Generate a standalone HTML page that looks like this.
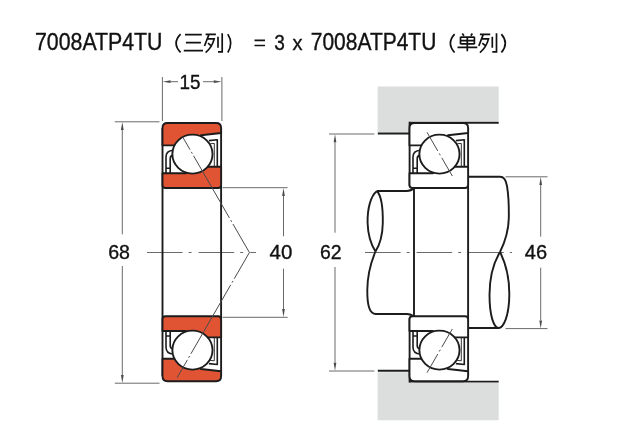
<!DOCTYPE html>
<html><head><meta charset="utf-8">
<style>
html,body{margin:0;padding:0;background:#fff;width:640px;height:440px;overflow:hidden}
svg{display:block;will-change:transform}
text{font-family:"Liberation Sans",sans-serif;fill:#111;stroke:#111;stroke-width:0.35px}
</style></head>
<body>
<svg width="640" height="440" viewBox="0 0 640 440">
<defs>
  <g id="brg" stroke="#1c1c1c" stroke-width="1.9" stroke-linejoin="round">
    <path d="M162.5,145.4 L162.5,128 Q162.5,123 167.5,123 L216.1,123 Q221.1,123 221.1,128 L221.1,133 L201,135.2 L192.4,154 L176,145.4 Z"/>
    <path d="M162.5,173.2 L186,173.2 L192.4,154 L207,166.8 L221.1,166.8 L221.1,185 Q221.1,188 218.1,188 L165.5,188 Q162.5,188 162.5,185 Z"/>
    <path d="M166,173.2 L166,157 Q166,150.6 173.3,150.2 M170.2,173.2 L170.2,158.5 Q170.2,155.6 173.3,155.4 M166,168.2 L170.2,168.2" fill="none" stroke-width="1.6"/>
    <path d="M208.9,140.6 L217.3,139.7 L217.3,166.8" fill="none" stroke-width="1.6"/>
    <path d="M210.1,143.8 L214.3,143.4 L214.3,166.8" fill="none" stroke-width="0.9"/>
    <ellipse cx="192.45" cy="154.1" rx="20.1" ry="19.5" fill="#fff"/>
  </g>
</defs>

<!-- center lines -->
<g stroke="#6a6a6a" stroke-width="1.2" fill="none" stroke-dasharray="35.6 6 3 7">
  <line x1="147" y1="252.5" x2="256" y2="252.5"/>
  <line x1="365" y1="252.5" x2="512" y2="252.5"/>
</g>

<!-- LEFT DIAGRAM -->
<line x1="162.5" y1="128" x2="162.5" y2="376" stroke="#1c1c1c" stroke-width="1.9"/>
<line x1="221.1" y1="128" x2="221.1" y2="376" stroke="#1c1c1c" stroke-width="1.9"/>
<use href="#brg" fill="#e05434"/>
<use href="#brg" fill="#e05434" transform="translate(0,504.2) scale(1,-1)"/>

<!-- RIGHT DIAGRAM -->
<path d="M377.6,86.5 L498.7,86.5 L498.7,121.3 L409.5,121.3 L409.5,132.2 L377.6,132.2 Z" fill="#dcdedd"/>
<path d="M377.6,420.2 L498.7,420.2 L498.7,383 L409.5,383 L409.5,372.2 L377.6,372.2 Z" fill="#dcdedd"/>
<g stroke="#1c1c1c" stroke-width="1.9" fill="none">
  <line x1="377.8" y1="133.5" x2="409.5" y2="133.5"/>
  <line x1="409.5" y1="122.7" x2="498.7" y2="122.7"/>
  <line x1="377.8" y1="370.7" x2="409.5" y2="370.7"/>
  <line x1="409.5" y1="381.6" x2="498.7" y2="381.6"/>
  <line x1="468.1" y1="128" x2="468.1" y2="376"/>
  <line x1="409.6" y1="121.8" x2="409.6" y2="186"/>
  <line x1="409.6" y1="318.2" x2="409.6" y2="382.5"/>
  <line x1="414" y1="188" x2="414" y2="317"/>
  <path d="M377,191 L407,191 Q411,191 414,188"/>
  <path d="M375,314 L407,314 Q411,314 414,317"/>
  <path d="M377,191 C370.5,196 367.3,209 367.6,223 C368,237 372,246 375.5,251.5 M377,191 C381.5,196 383,209 382.8,223 C382.5,237 379,246 375.5,251.5"/>
  <path d="M375.5,251.5 C371,262 367.5,275 367.3,290 C367.2,304 369,314 376,314"/>
  <path d="M468.1,176.8 L500,176.8 C504,176.8 506,180 507,186 C508.5,195 509,205 508.8,218 C508.5,232 504,244 500,252"/>
  <path d="M468.1,328 L498.6,328 M500,252 C494,262 489.5,278 489.5,295 C489.5,316 494,328 498.6,328 M500,252 C506,264 509.5,278 509.3,295 C509.1,316 503.5,328 498.6,328"/>
</g>
<use href="#brg" fill="#fff" transform="translate(247,0)"/>
<use href="#brg" fill="#fff" transform="translate(247,504.2) scale(1,-1)"/>

<!-- contact lines -->
<g stroke="#4a4a4a" stroke-width="1" fill="none">
  <line x1="182.6" y1="136.8" x2="249.4" y2="252.5" stroke-dasharray="71.8 2.5 2 2.5" stroke-dashoffset="56.9"/>
  <line x1="249.4" y1="252.5" x2="177" y2="377.9" stroke-dasharray="79.7 2.5 2 2.5" stroke-dashoffset="49.4"/>
  <line x1="427" y1="132.3" x2="452.3" y2="176" stroke-dasharray="21.5 3 2 3 60"/>
  <line x1="427" y1="372.7" x2="452.3" y2="329" stroke-dasharray="21.5 3 2 3 60"/>
</g>

<!-- dimensions -->
<g stroke="#6a6a6a" stroke-width="1" fill="none">
  <line x1="162.4" y1="77" x2="162.4" y2="121"/>
<line x1="221.9" y1="77" x2="221.9" y2="121"/>
<line x1="178" y1="81.7" x2="170.60" y2="81.70"/><path d="M162.6,81.7 L170.60,80.35 L170.60,83.05 Z" fill="#4a4a4a" stroke="none"/>
<line x1="203" y1="81.7" x2="213.70" y2="81.70"/><path d="M221.7,81.7 L213.70,83.05 L213.70,80.35 Z" fill="#4a4a4a" stroke="none"/>
<line x1="114.8" y1="121.8" x2="159.5" y2="121.8"/>
<line x1="114.8" y1="383.2" x2="159.5" y2="383.2"/>
<line x1="122.3" y1="234.3" x2="122.30" y2="130.00"/><path d="M122.3,122 L123.65,130.00 L120.95,130.00 Z" fill="#4a4a4a" stroke="none"/>
<line x1="122.3" y1="266" x2="122.30" y2="375.00"/><path d="M122.3,383 L120.95,375.00 L123.65,375.00 Z" fill="#4a4a4a" stroke="none"/>
<line x1="222.5" y1="187.7" x2="287.6" y2="187.7"/>
<line x1="222.5" y1="317.3" x2="287.6" y2="317.3"/>
<line x1="283.5" y1="236.3" x2="283.50" y2="195.90"/><path d="M283.5,187.9 L284.85,195.90 L282.15,195.90 Z" fill="#4a4a4a" stroke="none"/>
<line x1="283.5" y1="268.7" x2="283.50" y2="309.10"/><path d="M283.5,317.1 L282.15,309.10 L284.85,309.10 Z" fill="#4a4a4a" stroke="none"/>
<line x1="329" y1="134" x2="374.4" y2="134"/>
<line x1="329" y1="371" x2="374.4" y2="371"/>
<line x1="335" y1="232.7" x2="335.00" y2="142.20"/><path d="M335,134.2 L336.35,142.20 L333.65,142.20 Z" fill="#4a4a4a" stroke="none"/>
<line x1="335" y1="267" x2="335.00" y2="362.80"/><path d="M335,370.8 L333.65,362.80 L336.35,362.80 Z" fill="#4a4a4a" stroke="none"/>
<line x1="505.5" y1="176.8" x2="547.5" y2="176.8"/>
<line x1="505.5" y1="328.6" x2="547.5" y2="328.6"/>
<line x1="540.7" y1="236.6" x2="540.70" y2="185.00"/><path d="M540.7,177 L542.05,185.00 L539.35,185.00 Z" fill="#4a4a4a" stroke="none"/>
<line x1="540.7" y1="267.7" x2="540.70" y2="320.40"/><path d="M540.7,328.4 L539.35,320.40 L542.05,320.40 Z" fill="#4a4a4a" stroke="none"/>
</g>

<!-- TEXT -->
<text x="179.6" y="88.8" font-size="19.5" textLength="21" lengthAdjust="spacingAndGlyphs">15</text>
<text x="108.2" y="258.9" font-size="19.5" textLength="21.8" lengthAdjust="spacingAndGlyphs">68</text>
<text x="269.5" y="259.1" font-size="19.5" textLength="22.8" lengthAdjust="spacingAndGlyphs">40</text>
<text x="320" y="258.9" font-size="19.5" textLength="21.6" lengthAdjust="spacingAndGlyphs">62</text>
<text x="524.8" y="258.8" font-size="19.5" textLength="22.3" lengthAdjust="spacingAndGlyphs">46</text>

<text x="35" y="50" font-size="23" textLength="127.5" lengthAdjust="spacingAndGlyphs">7008ATP4TU</text>
<path d="M254.5,40.4 H265 M254.5,45.5 H265" stroke="#111" stroke-width="1.7"/>
<text x="274.3" y="49.8" font-size="22" textLength="10.6" lengthAdjust="spacingAndGlyphs">3</text>
<text x="292.4" y="49.8" font-size="19.5" textLength="10" lengthAdjust="spacingAndGlyphs">x</text>
<text x="310.8" y="50" font-size="23" textLength="125.5" lengthAdjust="spacingAndGlyphs">7008ATP4TU</text>
<g fill="none" stroke="#111" stroke-width="1.7">
  <path d="M180.6,34.1 Q171.6,43.2 180.6,52.4 M227.8,34.1 Q233.6,43.2 227.8,52.5"/>
  <path d="M185,34.7 H201.8 M185.9,42.7 H200.9 M183.8,50.7 H203"/>
  <g id="lie"><path d="M205.6,34.4 H215.9 M208.9,34.6 L204.5,46 M207.1,38.9 H214.2 Q212,47.5 205.6,52.6 M208,43.2 L211,45.6 M218,36.8 V47.7 M222.2,33.3 V51.9 H218"/></g>
  <use href="#lie" transform="translate(274.3,0)"/>
  <path d="M454.6,34.1 Q446.2,43.2 454.6,52.5 M501.4,34.1 Q509.2,43.2 501.4,52.5"/>
  <path d="M462.3,33.5 L463.9,35.8 M472.3,33.5 L470.9,35.8 M460.5,36.8 V44.2 M474.4,36.8 V44.2 M460.5,37.1 H474.4 M460.5,40.6 H474.4 M460.5,43.9 H474.4 M467.3,37 V51.3 M457.5,47.4 H477.3"/>
</g>
</svg>
</body></html>
